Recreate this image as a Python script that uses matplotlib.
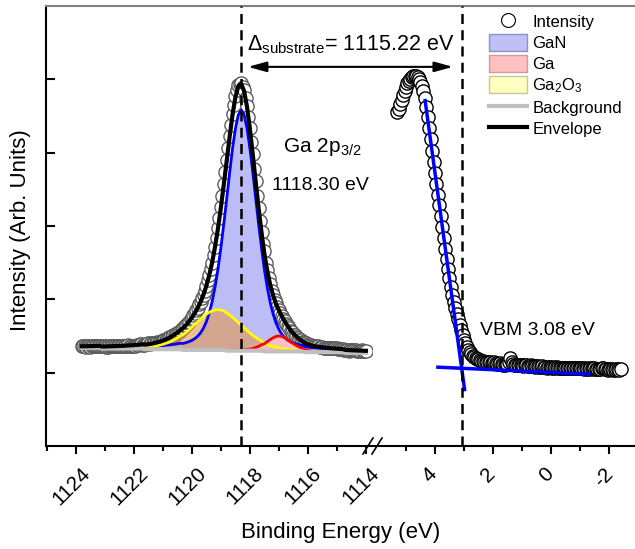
import numpy as np
import matplotlib
matplotlib.use("Agg")
import matplotlib.pyplot as plt
from matplotlib.patches import Patch
from matplotlib.lines import Line2D
from matplotlib.ticker import FixedLocator, NullFormatter
from matplotlib.transforms import ScaledTranslation

plt.rcParams['font.family'] = ['Liberation Sans', 'DejaVu Sans']
plt.rcParams['mathtext.fontset'] = 'custom'
plt.rcParams['mathtext.rm'] = 'Liberation Sans'
plt.rcParams['mathtext.it'] = 'Liberation Sans:italic'

# Ga 2p3/2 core level, measured 1123.8 -> 1114.0 eV in 0.05 eV steps
be_data = np.round(np.arange(1123.8, 1113.975, -0.05), 2)
intensity = [1.36, 1.36, 1.37, 1.35, 1.36, 1.36, 1.35, 1.36, 1.36, 1.37, 1.36, 1.36, 1.37, 1.36,
             1.36, 1.36, 1.36, 1.35, 1.35, 1.36, 1.36, 1.36, 1.37, 1.36, 1.36, 1.37,
             1.37, 1.37, 1.36, 1.36, 1.37, 1.37, 1.38, 1.37, 1.37, 1.37, 1.37, 1.37, 1.38, 1.38,
             1.39, 1.39, 1.38, 1.38, 1.39, 1.39, 1.40, 1.39, 1.40, 1.40, 1.41, 1.41, 1.42, 1.42,
             1.42, 1.43, 1.44, 1.45, 1.45, 1.46, 1.48, 1.48, 1.49, 1.51, 1.51, 1.53, 1.54, 1.56,
             1.57, 1.60, 1.61, 1.64, 1.65, 1.68, 1.69, 1.73, 1.75, 1.79, 1.81, 1.85, 1.88, 1.93,
             1.97, 2.02, 2.06, 2.12, 2.18, 2.26, 2.33, 2.42, 2.50, 2.61, 2.72, 2.84, 2.97, 3.11,
             3.26, 3.41, 3.57, 3.73, 3.90, 4.06, 4.23, 4.38, 4.53, 4.65, 4.77, 4.85, 4.92, 4.94,
             4.95, 4.90, 4.85, 4.74, 4.63, 4.48, 4.33, 4.15, 3.98, 3.78, 3.61, 3.41, 3.25, 3.07,
             2.92, 2.76, 2.66, 2.50, 2.40, 2.29, 2.21, 2.12, 2.06, 1.99, 1.95, 1.89, 1.85, 1.81,
             1.77, 1.73, 1.70, 1.67, 1.63, 1.61, 1.57, 1.55, 1.52, 1.51, 1.48, 1.47, 1.45, 1.44,
             1.42, 1.42, 1.40, 1.40, 1.39, 1.38, 1.38, 1.37, 1.37, 1.36, 1.36, 1.36, 1.35, 1.35,
             1.35, 1.34, 1.34, 1.34, 1.34, 1.34, 1.33, 1.33, 1.33, 1.33, 1.33, 1.32, 1.32, 1.32,
             1.32, 1.31, 1.31, 1.31, 1.30, 1.31, 1.31, 1.31, 1.31, 1.31, 1.30, 1.30, 1.30, 1.31,
             1.30, 1.30, 1.30]

# peak fit on a 0.1 eV grid
be = np.round(np.arange(1123.8, 1113.95, -0.1), 1)
background = [1.34] * 7 + [1.33] * 15 + [1.32] * 13 + [1.31] * 15 + [1.30] * 13 + \
             [1.29] * 14 + [1.28] * 14 + [1.27] * 8
# fitted components, height above background
gan = [0.013, 0.013, 0.013, 0.014, 0.015, 0.015, 0.016, 0.016, 0.017, 0.018, 0.019, 0.019,
       0.020, 0.021, 0.022, 0.023, 0.025, 0.026, 0.027, 0.029, 0.030, 0.032, 0.034, 0.036,
       0.038, 0.041, 0.044, 0.047, 0.050, 0.054, 0.058, 0.063, 0.068, 0.074, 0.081, 0.089,
       0.100, 0.113, 0.131, 0.155, 0.188, 0.234, 0.299, 0.388, 0.508, 0.666, 0.866, 1.110,
       1.399, 1.724, 2.073, 2.427, 2.757, 3.031, 3.215, 3.280,
       3.215, 3.031, 2.757, 2.427, 2.073, 1.724, 1.399, 1.110, 0.866, 0.666, 0.508, 0.388,
       0.299, 0.234, 0.188, 0.155, 0.131, 0.113, 0.100, 0.089, 0.081, 0.074, 0.068, 0.063,
       0.058, 0.054, 0.050, 0.047, 0.044, 0.041, 0.038, 0.036, 0.034, 0.032, 0.030, 0.029,
       0.027, 0.026, 0.025, 0.023, 0.022, 0.021, 0.020]
ga2o3 = [0.007, 0.007, 0.008, 0.008, 0.008, 0.009, 0.009, 0.010, 0.010, 0.011, 0.011, 0.012,
         0.013, 0.013, 0.014, 0.015, 0.016, 0.017, 0.019, 0.020, 0.022, 0.025, 0.028, 0.032,
         0.036, 0.042, 0.049, 0.057, 0.067, 0.080, 0.094, 0.112, 0.132, 0.155, 0.181, 0.210,
         0.241, 0.275, 0.311, 0.348, 0.385, 0.421, 0.456, 0.487, 0.513, 0.533, 0.546, 0.550,
         0.546, 0.533, 0.513, 0.487, 0.456, 0.421, 0.385, 0.348, 0.311, 0.275, 0.241, 0.210,
         0.181, 0.155, 0.132, 0.112, 0.094, 0.080, 0.067, 0.057, 0.049, 0.042, 0.036, 0.032,
         0.028, 0.025, 0.022, 0.020, 0.019, 0.017, 0.016, 0.015, 0.014, 0.013, 0.013, 0.012,
         0.011, 0.011, 0.010, 0.010, 0.009, 0.009, 0.008, 0.008, 0.008, 0.007, 0.007, 0.007,
         0.007, 0.006, 0.006]
ga = [0.0] * 38 + \
     [0.002, 0.002, 0.002, 0.002, 0.002, 0.002, 0.003, 0.003, 0.003, 0.003, 0.004, 0.004,
      0.005, 0.005, 0.006, 0.007, 0.008, 0.009, 0.012, 0.016, 0.022, 0.030, 0.043, 0.059,
      0.080, 0.105, 0.133, 0.161, 0.186, 0.204, 0.210,
      0.204, 0.186, 0.161, 0.133, 0.105, 0.080, 0.059, 0.043, 0.030, 0.022, 0.016, 0.012,
      0.009, 0.008, 0.007, 0.006, 0.005, 0.005, 0.004, 0.004, 0.003, 0.003, 0.003, 0.003,
      0.002, 0.002, 0.002, 0.002, 0.002, 0.002]

# valence band edge, 5.3 -> -2.4 eV in 0.05 eV steps
vb = np.round(np.arange(5.30, -2.425, -0.05), 2)
vb_int = [4.55, 4.60, 4.66, 4.72, 4.78, 4.84, 4.90, 4.95, 4.98, 5.01, 5.03, 5.04, 5.05, 5.04,
          5.03, 5.00, 4.97, 4.91, 4.84, 4.74, 4.62, 4.48, 4.33, 4.18, 4.02, 3.87, 3.72, 3.57,
          3.42, 3.28, 3.13, 2.99, 2.84, 2.69, 2.55, 2.42, 2.29, 2.17, 2.06, 1.97, 1.88, 1.80,
          1.73, 1.65, 1.58, 1.51, 1.45, 1.40, 1.35, 1.31, 1.28, 1.25, 1.23, 1.21, 1.20, 1.19,
          1.18, 1.17, 1.16, 1.16, 1.15, 1.15, 1.15, 1.14, 1.14, 1.13, 1.13, 1.14, 1.13, 1.12,
          1.12, 1.13, 1.12, 1.11, 1.11, 1.12, 1.12, 1.14, 1.20, 1.14, 1.12, 1.11, 1.10, 1.10,
          1.11, 1.10, 1.10, 1.09, 1.10, 1.10, 1.09, 1.09, 1.10, 1.09, 1.09, 1.08, 1.09, 1.09,
          1.08, 1.08, 1.09, 1.08, 1.08, 1.07, 1.08, 1.08, 1.08, 1.07, 1.07, 1.08, 1.08, 1.07,
          1.07, 1.06, 1.07, 1.07, 1.07, 1.06, 1.06, 1.07, 1.07, 1.06, 1.06, 1.06, 1.06, 1.07,
          1.07, 1.06, 1.06, 1.05, 1.06, 1.05, 1.05, 1.06, 1.06, 1.05, 1.06, 1.05, 1.05, 1.05,
          1.05, 1.06, 1.06, 1.05, 1.05, 1.04, 1.05, 1.05, 1.05, 1.04, 1.04, 1.05, 1.05, 1.04,
          1.05]
# linear fits used for the VBM
edge_x, edge_y = [4.34, 2.98], [4.71, 0.77]
base_x, base_y = [3.90, -1.31], [1.075, 0.98]

peak_pos = 1118.30
vbm = 3.08
delta = 1115.22

be_ticks = [1124, 1122, 1120, 1118, 1116, 1114]
be_minor = [1125, 1123, 1121, 1119, 1117, 1115]
vb_ticks = [4, 2, 0, -2]
vb_minor = [5, 3, 1, -1]
vb_labels = ['4', '2', '0', '-2']

bg = np.array(background)
env = bg + np.array(gan) + np.array(ga2o3) + np.array(ga)

FW, FH = 635, 549
fx = lambda px: px / FW
fy = lambda py: 1 - py / FH

fig = plt.figure(figsize=(FW / 100, FH / 100), dpi=100)
ax1 = fig.add_axes([fx(46), fy(446), fx(372) - fx(46), fy(6) - fy(446)])
ax2 = fig.add_axes([fx(372), fy(446), 1 - fx(372), fy(6) - fy(446)])

# left panel: data, components, envelope
ax1.plot(be_data, intensity, 'o', ms=9.5, mfc='white', mec='#5c5c5c', mew=1, zorder=2)
ax1.fill_between(be, bg, bg + np.array(gan), color='#bcbcf6', lw=0, zorder=3)
ax1.fill_between(be, bg, bg + np.array(ga2o3), color=(225 / 255, 152 / 255, 75 / 255),
                 alpha=0.6, lw=0, zorder=3)
ax1.fill_between(be, bg, bg + np.array(ga), color='#ffc0c0', alpha=0.9, lw=0, zorder=3)
ax1.plot(be, bg + np.array(gan), color='#0000ff', lw=2, zorder=4)
ax1.plot(be, bg + np.array(ga2o3), color='#ffff00', lw=2, zorder=4)
ax1.plot(be, bg + np.array(ga), color='#ff0000', lw=2, zorder=4)
ax1.plot(be, bg, color='#c0c0c0', lw=3, zorder=4)
ax1.plot(be, env, color='black', lw=3, zorder=5)

# right panel: valence band with linear extrapolation
ax2.plot(vb, vb_int, 'o', ms=9.5, mfc='white', mec='black', mew=1, zorder=2)
ax2.plot(edge_x, edge_y, color='#0000ff', lw=2.5, zorder=4)
ax2.plot(base_x, base_y, color='#0000ff', lw=2.5, zorder=4)

dash = (0, (4, 2.5))
ax1.axvline(peak_pos, color='black', lw=1.8, ls=dash, zorder=6)
ax2.axvline(vbm, color='black', lw=1.8, ls=dash, zorder=6)

ax1.set_xlim(1125.034, 1113.79)
ax2.set_xlim(6.172, -2.897)
for ax in (ax1, ax2):
    ax.set_ylim(0, 6)
    ax.spines['right'].set_visible(False)
    ax.spines['top'].set_color('#808080')
    ax.spines['top'].set_linewidth(1.5)
    ax.spines['bottom'].set_linewidth(1.5)
    ax.tick_params(axis='x', which='major', direction='out', length=6, width=1.5,
                   labelsize=15, pad=7, labelrotation=45)
    ax.tick_params(axis='x', which='minor', direction='out', length=3.5, width=1.5)
    ax.patch.set_alpha(0)
ax2.spines['left'].set_visible(False)
ax1.spines['left'].set_linewidth(1.5)

ax1.xaxis.set_major_locator(FixedLocator(be_ticks))
ax1.xaxis.set_minor_locator(FixedLocator(be_minor))
ax1.set_xticklabels([str(v) for v in be_ticks])
ax2.xaxis.set_major_locator(FixedLocator(vb_ticks))
ax2.xaxis.set_minor_locator(FixedLocator(vb_minor))
ax2.set_xticklabels(vb_labels)
shift = ScaledTranslation(-5 / 100, 0, fig.dpi_scale_trans)
for ax in (ax1, ax2):
    for lab in ax.get_xticklabels():
        lab.set_ha('center')
        lab.set_transform(lab.get_transform() + shift)

ax1.yaxis.set_major_locator(FixedLocator([1, 2, 3, 4, 5]))
ax1.yaxis.set_major_formatter(NullFormatter())
ax1.tick_params(axis='y', direction='in', length=6.5, width=1.5)
ax2.tick_params(axis='y', left=False, labelleft=False)

# axis break marks
for px in (363, 372):
    fig.add_artist(Line2D([fx(px), fx(px + 10)], [fy(454), fy(438)], color='black', lw=1.2))

# separation between Ga 2p3/2 and VBM
ax2.annotate('', xy=(3.38, 5.17), xycoords='data',
             xytext=(1118.07, 5.17), textcoords=ax1.transData,
             arrowprops=dict(arrowstyle='<|-|>,head_length=0.8,head_width=0.22',
                             mutation_scale=14, color='black', lw=1.5,
                             shrinkA=0, shrinkB=0), zorder=7)
fig.text(fx(247), fy(50), r'$\Delta_{\mathrm{substrate}}$= %.2f eV' % delta,
         fontsize=15.5, va='baseline', ha='left')
fig.text(fx(283), fy(152), r'Ga 2p$_{3/2}$', fontsize=15, va='baseline', ha='left')
fig.text(fx(272), fy(190), '%.2f eV' % peak_pos, fontsize=14, va='baseline', ha='left')
fig.text(fx(480), fy(335), 'VBM %.2f eV' % vbm, fontsize=14, va='baseline', ha='left')

fig.text(fx(341), fy(538), 'Binding Energy (eV)', fontsize=16, va='baseline', ha='center')
fig.text(fx(21), fy(230), 'Intensity (Arb. Units)', fontsize=16, va='center', ha='center',
         rotation=90)

handles = [
    Line2D([], [], ls='none', marker='o', ms=10, mfc='white', mec='black', mew=0.8),
    Patch(facecolor='#c0c0f8', edgecolor='#9090c8', lw=1),
    Patch(facecolor='#ffc0c0', edgecolor='#d09a9a', lw=1),
    Patch(facecolor='#ffffc0', edgecolor='#c8c896', lw=1),
    Line2D([], [], color='#c0c0c0', lw=3),
    Line2D([], [], color='black', lw=3),
]
labels = ['Intensity', 'GaN', 'Ga', r'Ga$_2$O$_3$', 'Background', 'Envelope']
fig.legend(handles, labels, loc='upper left', bbox_to_anchor=(fx(489), fy(13)),
           frameon=False, fontsize=12, borderpad=0, labelspacing=0.25,
           handlelength=2.3, handleheight=1.15, handletextpad=0.3, borderaxespad=0)

fig.savefig('out.png', dpi=100)
